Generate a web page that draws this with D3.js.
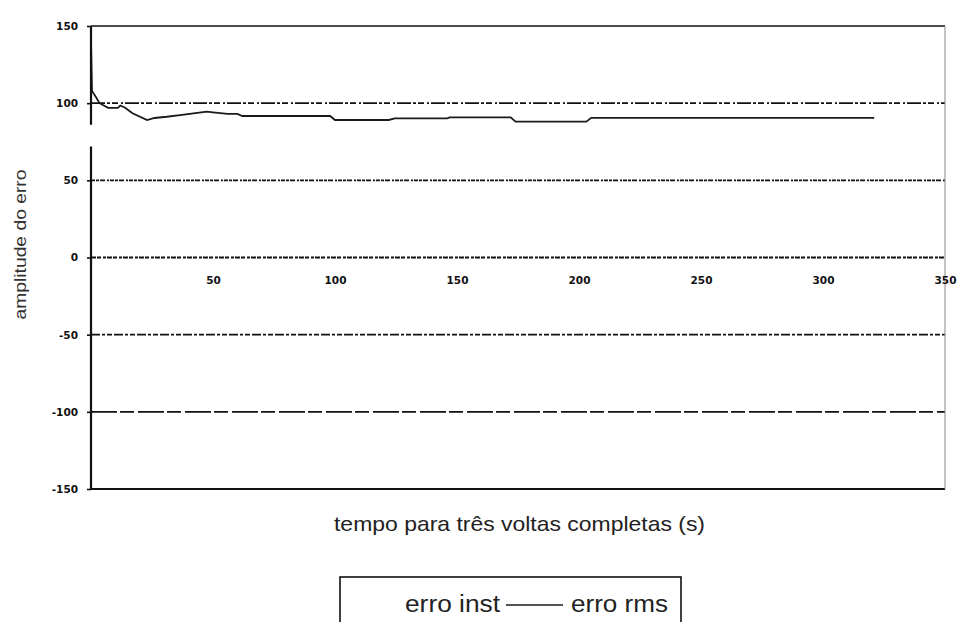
<!DOCTYPE html>
<html>
<head>
<meta charset="utf-8">
<script src="https://cdn.jsdelivr.net/npm/d3@7"></script>
<style>
  html, body { margin: 0; padding: 0; background: #fff; }
  svg { display: block; }
</style>
</head>
<body>
<svg id="chart" width="960" height="622"></svg>
<script>
// Tempo (s) e erro RMS acumulado ao longo de três voltas
const tempo = [0, 0.4, 0.8, 2, 3.5, 7, 11, 12, 14, 17, 23, 26, 31, 36.5, 42, 47.5, 50, 56, 60, 62, 98, 100, 122, 124.5, 146, 147, 172, 174, 203, 205, 321];
const erroRms = [141, 108, 107, 104, 100, 97, 97, 98.5, 97, 93.5, 89, 90.4, 91.2, 92.3, 93.4, 94.5, 94, 93, 93, 91.7, 91.7, 89.1, 89.1, 90.2, 90.2, 90.8, 90.8, 88, 88, 90.5, 90.5];

const xTicks = [50, 100, 150, 200, 250, 300, 350];
const yTicks = [-150, -100, -50, 0, 50, 100, 150];
const gridValues = [100, 50, 0, -50, -100];
const legendLabels = ["erro inst", "erro rms"];

const svg = d3.select("#chart");
const W = 960, H = 622;
const margin = { top: 26, right: 15, bottom: 133, left: 91 };

const x = d3.scaleLinear().domain([0, 350]).range([margin.left, W - margin.right]);
const y = d3.scaleLinear().domain([-150, 150]).range([H - margin.bottom, margin.top]);

const tickFont = "'DejaVu Sans', Verdana, sans-serif";
const textFont = "'Liberation Sans', Arial, sans-serif";

// Horizontal grid lines (dotted / dashed like a printed spreadsheet chart)
const dashes = {
  "100": "14,2,3,2,6,3,2,2",
  "50": "4,1,3,1,5,2,2,1",
  "0": "5,1,4,2,3,1",
  "-50": "9,2,3,2,5,2",
  "-100": "26,3,14,4"
};
svg.append("g").selectAll("line")
  .data(gridValues)
  .join("line")
  .attr("x1", x(0)).attr("x2", x(350))
  .attr("y1", d => y(d)).attr("y2", d => y(d))
  .attr("stroke", "#111")
  .attr("stroke-width", 1.9)
  .attr("stroke-dasharray", d => dashes[String(d)]);

// Plot frame: top and bottom black, right thin gray
svg.append("line")
  .attr("x1", x(0)).attr("x2", x(350))
  .attr("y1", y(150)).attr("y2", y(150))
  .attr("stroke", "#111").attr("stroke-width", 1.6);
svg.append("line")
  .attr("x1", x(0)).attr("x2", x(350))
  .attr("y1", y(-150)).attr("y2", y(-150))
  .attr("stroke", "#111").attr("stroke-width", 1.9);
svg.append("line")
  .attr("x1", x(350)).attr("x2", x(350))
  .attr("y1", y(150)).attr("y2", y(-150))
  .attr("stroke", "#888").attr("stroke-width", 1);

// Erro RMS series
const line = d3.line().x((d, i) => x(tempo[i])).y(d => y(d));
svg.append("path")
  .datum(erroRms)
  .attr("d", line)
  .attr("fill", "none")
  .attr("stroke", "#1a1a1a")
  .attr("stroke-width", 1.8);

// Y axis
const yAxis = svg.append("g")
  .attr("transform", `translate(${x(0)},0)`)
  .call(d3.axisLeft(y).tickValues(yTicks).tickSize(4).tickPadding(9).tickFormat(d => String(d)));
yAxis.select(".domain").remove();
yAxis.selectAll(".tick line").attr("stroke", "#111").attr("stroke-width", 1.6);
yAxis.selectAll(".tick text")
  .attr("font-family", tickFont).attr("font-weight", "bold")
  .attr("font-size", 10.5).attr("fill", "#111");
// axis spine, broken where the print faded
[[150, 86], [72, -150]].forEach(([a, b]) => {
  svg.append("line")
    .attr("x1", x(0)).attr("x2", x(0))
    .attr("y1", y(a)).attr("y2", y(b))
    .attr("stroke", "#111").attr("stroke-width", 2.2);
});

// X axis labels sit on the zero line
const xAxis = svg.append("g")
  .attr("transform", `translate(0,${y(0)})`)
  .call(d3.axisBottom(x).tickValues(xTicks).tickSize(0).tickPadding(19).tickFormat(d => String(d)));
xAxis.select(".domain").remove();
xAxis.selectAll(".tick text")
  .attr("font-family", tickFont).attr("font-weight", "bold")
  .attr("font-size", 10.5).attr("fill", "#111");

// Axis titles
svg.append("text")
  .attr("transform", `translate(26,${y(0) - 13}) rotate(-90)`)
  .attr("text-anchor", "middle")
  .attr("font-family", textFont).attr("font-size", 17).attr("fill", "#333")
  .attr("textLength", 150).attr("lengthAdjust", "spacingAndGlyphs")
  .text("amplitude do erro");

svg.append("text")
  .attr("x", 334).attr("y", 531)
  .attr("font-family", textFont).attr("font-size", 21).attr("fill", "#222")
  .attr("textLength", 371).attr("lengthAdjust", "spacingAndGlyphs")
  .text("tempo para três voltas completas (s)");

// Legend
const lg = svg.append("g");
lg.append("rect")
  .attr("x", 340).attr("y", 577).attr("width", 341).attr("height", 80)
  .attr("fill", "#fff").attr("stroke", "#111").attr("stroke-width", 1.6);
lg.append("text")
  .attr("x", 405).attr("y", 612)
  .attr("font-family", textFont).attr("font-size", 23).attr("fill", "#222")
  .attr("textLength", 95).attr("lengthAdjust", "spacingAndGlyphs")
  .text(legendLabels[0]);
lg.append("line")
  .attr("x1", 506).attr("x2", 563).attr("y1", 605).attr("y2", 605)
  .attr("stroke", "#1a1a1a").attr("stroke-width", 1.5);
lg.append("text")
  .attr("x", 571).attr("y", 612)
  .attr("font-family", textFont).attr("font-size", 23).attr("fill", "#222")
  .attr("textLength", 97).attr("lengthAdjust", "spacingAndGlyphs")
  .text(legendLabels[1]);
</script>
</body>
</html>
